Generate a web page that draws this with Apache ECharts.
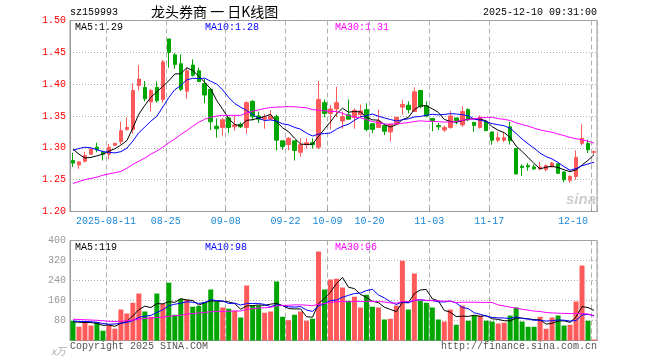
<!DOCTYPE html>
<html><head><meta charset="utf-8">
<script src="https://cdn.jsdelivr.net/npm/echarts@6/dist/echarts.min.js"></script>
<style>html,body{margin:0;padding:0;background:#fff}#c{width:660px;height:360px}</style>
</head><body><div id="c"></div>
<script>
const dates = [
'2025-08-01','2025-08-04','2025-08-05','2025-08-06','2025-08-07','2025-08-08',
'2025-08-11','2025-08-12','2025-08-13','2025-08-14','2025-08-15',
'2025-08-18','2025-08-19','2025-08-20','2025-08-21','2025-08-22',
'2025-08-25','2025-08-26','2025-08-27','2025-08-28','2025-08-29',
'2025-09-01','2025-09-02','2025-09-03','2025-09-04','2025-09-05',
'2025-09-08','2025-09-09','2025-09-10','2025-09-11','2025-09-12',
'2025-09-15','2025-09-16','2025-09-17','2025-09-18','2025-09-19',
'2025-09-22','2025-09-23','2025-09-24','2025-09-25','2025-09-26',
'2025-09-29','2025-09-30',
'2025-10-09','2025-10-10','2025-10-13','2025-10-14','2025-10-15','2025-10-16','2025-10-17',
'2025-10-20','2025-10-21','2025-10-22','2025-10-23','2025-10-24',
'2025-10-27','2025-10-28','2025-10-29','2025-10-30','2025-10-31',
'2025-11-03','2025-11-04','2025-11-05','2025-11-06','2025-11-07',
'2025-11-10','2025-11-11','2025-11-12','2025-11-13','2025-11-14',
'2025-11-17','2025-11-18','2025-11-19','2025-11-20','2025-11-21',
'2025-11-24','2025-11-25','2025-11-26','2025-11-27','2025-11-28',
'2025-12-01','2025-12-02','2025-12-03','2025-12-04','2025-12-05',
'2025-12-08','2025-12-09','2025-12-10'];

const opens = [1.280,1.273,1.279,1.290,1.301,1.293,1.290,1.304,1.310,1.329,
1.329,1.398,1.395,1.372,1.395,1.376,1.471,1.446,1.432,1.389,
1.430,1.421,1.401,1.392,1.334,1.332,1.347,1.333,1.337,1.332,
1.373,1.350,1.345,1.345,1.349,1.311,1.305,1.311,1.293,1.305,
1.308,1.301,1.371,1.354,1.361,1.342,1.352,1.348,1.352,1.360,
1.338,1.332,1.335,1.325,1.337,1.364,1.367,1.357,1.390,1.366,
1.346,1.335,1.328,1.332,1.347,1.336,1.360,1.340,1.332,1.341,
1.325,1.312,1.312,1.333,1.299,1.271,1.272,1.270,1.267,1.266,
1.270,1.275,1.262,1.249,1.255,1.307,1.307,1.293];
const closes = [1.276,1.278,1.288,1.298,1.297,1.290,1.301,1.307,1.327,1.332,
1.390,1.408,1.377,1.390,1.374,1.435,1.450,1.431,1.392,1.421,
1.414,1.404,1.383,1.341,1.330,1.344,1.332,1.336,1.333,1.371,
1.349,1.345,1.348,1.350,1.312,1.302,1.315,1.296,1.305,1.308,
1.305,1.376,1.354,1.361,1.371,1.349,1.345,1.359,1.358,1.329,
1.329,1.342,1.326,1.337,1.348,1.368,1.360,1.388,1.365,1.350,
1.343,1.333,1.332,1.350,1.342,1.357,1.344,1.335,1.348,1.327,
1.312,1.316,1.316,1.311,1.259,1.269,1.270,1.267,1.270,1.272,
1.276,1.260,1.250,1.255,1.285,1.315,1.297,1.294];
const lows = [1.270,1.267,1.277,1.289,1.293,1.280,1.282,1.303,1.306,1.327,
1.322,1.390,1.373,1.357,1.371,1.371,1.426,1.424,1.389,1.377,
1.412,1.404,1.370,1.328,1.316,1.319,1.323,1.327,1.331,1.322,
1.343,1.339,1.330,1.344,1.296,1.297,1.296,1.280,1.286,1.299,
1.299,1.298,1.348,1.329,1.348,1.330,1.345,1.330,1.347,1.326,
1.323,1.331,1.320,1.310,1.337,1.352,1.354,1.357,1.362,1.348,
1.326,1.328,1.325,1.330,1.337,1.333,1.342,1.325,1.330,1.327,
1.305,1.309,1.309,1.305,1.258,1.256,1.264,1.265,1.265,1.263,
1.270,1.259,1.246,1.245,1.250,1.304,1.292,1.290];
const highs = [1.292,1.278,1.294,1.299,1.308,1.296,1.306,1.308,1.341,1.348,
1.401,1.430,1.405,1.392,1.404,1.438,1.471,1.449,1.447,1.426,
1.439,1.426,1.408,1.394,1.346,1.347,1.348,1.350,1.340,1.373,
1.375,1.357,1.353,1.359,1.352,1.311,1.317,1.311,1.315,1.315,
1.315,1.405,1.376,1.367,1.396,1.357,1.376,1.362,1.368,1.370,
1.338,1.360,1.338,1.337,1.348,1.375,1.373,1.395,1.390,1.373,
1.346,1.339,1.335,1.358,1.347,1.365,1.362,1.340,1.351,1.344,
1.325,1.325,1.325,1.341,1.299,1.274,1.276,1.274,1.278,1.274,
1.278,1.275,1.263,1.257,1.296,1.337,1.313,1.296];
const volumes = [79,55,76,60,73,39,63,47,124,108,
151,188,116,95,188,146,231,103,167,164,
135,138,153,204,156,132,127,119,92,220,
140,140,111,116,236,95,81,103,116,79,
87,356,204,244,247,212,159,175,132,183,
135,132,84,87,140,319,124,268,159,151,
132,84,76,124,63,140,79,100,100,79,
76,68,71,100,132,76,55,55,95,47,
92,100,60,63,156,300,79,4];

const ma5Head = [1.298,1.290,1.284,1.285];
const ma10Head = [1.296,1.299,1.301,1.300,1.297,1.294,1.293,1.292,1.294];
const ma30Head = [1.244,1.247,1.250,1.252,1.254,1.257,1.259,1.261,1.263,1.268,
1.274,1.279,1.284,1.290,1.295,1.301,1.308,1.314,1.321,1.327,
1.334,1.340,1.345,1.348,1.350,1.351,1.351,1.351,1.351];
const vma5Head = [75,73,72,72];
const vma10Head = [78,76,76,75,73,68,65,66,69];
const vma30Head = [85,84,83,82,81,79,77,76,77,79,82,85,88,90,92,93,97,99,101,105,108,110,112,115,116,117,117,118,118];

const labelIdx = [6,16,26,36,43,50,60,70,87];
const priceTicks = [1.20,1.25,1.30,1.35,1.40,1.45,1.50];
const volTicks = [0,80,160,240,320,400];
const maTexts = ['MA5:1.29','MA10:1.28','MA30:1.31'];
const vmaTexts = ['MA5:119','MA10:98','MA30:96'];

const RED = '#ff5a5a', GREEN = '#00a600';
function ma(arr, n, head, dec) {
  return arr.map((v, i) => {
    if (i < n - 1) return head[i];
    let s = 0; for (let k = i - n + 1; k <= i; k++) s += arr[k];
    return +(s / n).toFixed(dec);
  });
}
const kData = dates.map((d, i) => [opens[i], closes[i], lows[i], highs[i]]);
const showIdx = (i) => labelIdx.indexOf(i) >= 0;
const MONO = "'Liberation Mono','DejaVu Sans Mono',monospace";

const chart = echarts.init(document.getElementById('c'), null, {renderer: 'canvas'});
const lineS = (name, data, color, xi) => ({
  name, type: 'line', data, xAxisIndex: xi, yAxisIndex: xi, showSymbol: false, symbol: 'none',
  lineStyle: {width: 1, color}, itemStyle: {color}, silent: true, z: 5
});
const txt = (x, y, text, fill, extra) => Object.assign({
  type: 'text', x, y, silent: true,
  style: Object.assign({text, fill, font: '10px ' + MONO, textVerticalAlign: 'middle'}, extra || {})
});

chart.setOption({
  animation: false,
  backgroundColor: '#fff',
  grid: [
    {left: 70, top: 20.5, width: 527, height: 191, show: true, borderColor: '#9a9a9a', borderWidth: 1, backgroundColor: 'transparent'},
    {left: 70, top: 240.5, width: 527, height: 100, show: true, borderColor: '#9a9a9a', borderWidth: 1, backgroundColor: 'transparent'}
  ],
  xAxis: [
    {type: 'category', gridIndex: 0, data: dates, boundaryGap: true,
     axisLine: {show: true, lineStyle: {color: '#9a9a9a'}},
     axisTick: {show: true, inside: true, length: 3, interval: (i) => showIdx(i), lineStyle: {color: '#9a9a9a'}},
     axisLabel: {interval: (i) => showIdx(i), color: '#1a88d8', fontFamily: MONO, fontSize: 10, margin: 5,
       padding: [0, 6, 0, 0], alignMaxLabel: 'right',
       formatter: (v, i) => i === labelIdx[0] ? v : v.slice(5)},
     splitLine: {show: true, interval: (i) => showIdx(i), lineStyle: {color: '#b0b0b0', type: [5, 3], width: 1}}},
    {type: 'category', gridIndex: 1, data: dates, boundaryGap: true,
     axisLine: {show: true, lineStyle: {color: '#9a9a9a'}},
     axisTick: {show: false}, axisLabel: {show: false},
     splitLine: {show: true, interval: (i) => showIdx(i), lineStyle: {color: '#b0b0b0', type: [5, 3], width: 1}}}
  ],
  yAxis: [
    {type: 'value', gridIndex: 0, min: priceTicks[0], max: priceTicks[priceTicks.length - 1], interval: 0.05,
     axisLine: {show: true, lineStyle: {color: '#9a9a9a'}}, axisTick: {show: false},
     axisLabel: {color: '#ff0000', fontFamily: MONO, fontSize: 10, margin: 4, formatter: (v) => v.toFixed(2)},
     splitLine: {show: true, lineStyle: {color: '#b0b0b0', type: [1, 2], width: 1}}},
    {type: 'value', gridIndex: 1, min: volTicks[0], max: volTicks[volTicks.length - 1], interval: 80,
     axisLine: {show: true, lineStyle: {color: '#9a9a9a'}}, axisTick: {show: false},
     axisLabel: {color: '#999999', fontFamily: MONO, fontSize: 10, margin: 4, formatter: (v) => v === 0 ? '' : String(v)},
     splitLine: {show: true, lineStyle: {color: '#b0b0b0', type: [1, 2], width: 1}}}
  ],
  series: [
    {type: 'candlestick', xAxisIndex: 0, yAxisIndex: 0, data: kData, barWidth: 4, silent: true,
     itemStyle: {color: RED, color0: GREEN, borderColor: RED, borderColor0: GREEN, borderWidth: 1}},
    lineS('MA5', ma(closes, 5, ma5Head, 4), '#000000', 0),
    lineS('MA10', ma(closes, 10, ma10Head, 4), '#0000ff', 0),
    lineS('MA30', ma(closes, 30, ma30Head, 4), '#ff00ff', 0),
    {type: 'bar', xAxisIndex: 1, yAxisIndex: 1, barWidth: 5, silent: true,
     data: volumes.map((v, i) => ({value: v, itemStyle: {color: closes[i] >= opens[i] ? RED : GREEN}}))},
    lineS('VMA5', ma(volumes, 5, vma5Head, 1), '#000000', 1),
    lineS('VMA10', ma(volumes, 10, vma10Head, 1), '#0000ff', 1),
    lineS('VMA30', ma(volumes, 30, vma30Head, 1), '#ff00ff', 1)
  ],
  graphic: [
    txt(70, 12, 'sz159993', '#000'),
    {type: 'text', x: 151, y: 12, silent: true, style: {text: '龙头券商 一 日K线图', fill: '#000', font: "14px 'Noto Sans CJK SC'", textVerticalAlign: 'middle'}},
    txt(597, 12, '2025-12-10 09:31:00', '#000', {textAlign: 'right'}),
    txt(75, 27, maTexts[0], '#000'),
    txt(205, 27, maTexts[1], '#0000ff'),
    txt(335, 27, maTexts[2], '#ff00ff'),
    txt(75, 247, vmaTexts[0], '#000'),
    txt(205, 247, vmaTexts[1], '#0000ff'),
    txt(335, 247, vmaTexts[2], '#ff00ff'),
    txt(66, 351, 'x万', '#aaaaaa', {textAlign: 'right', font: "italic 10px 'Noto Sans CJK SC'"}),
    txt(70, 346, 'Copyright 2025 SINA.COM', '#555'),
    txt(597, 346, 'http://finance.sina.com.cn', '#555', {textAlign: 'right'}),
    {type: 'text', x: 566, y: 200, silent: true, style: {text: 'sina', fill: '#b8b8b8', opacity: 0.7, font: "italic bold 15px 'Liberation Sans'", textVerticalAlign: 'middle'}}
  ]
});
</script>
</body></html>
